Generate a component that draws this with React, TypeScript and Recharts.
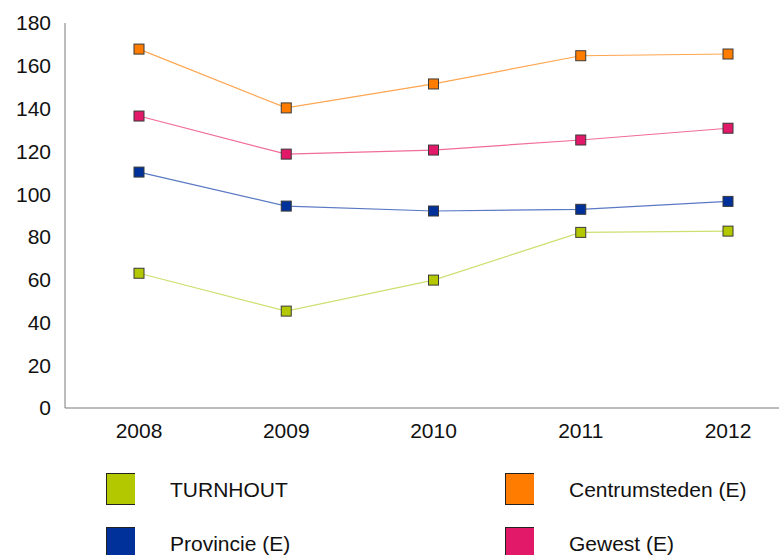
import { LineChart, Line, XAxis, YAxis } from "recharts";

const years = ["2008", "2009", "2010", "2011", "2012"];
const turnhout = [63, 45.3, 59.8, 82.1, 82.7];
const centrumsteden = [167.8, 140.3, 151.5, 164.7, 165.5];
const provincie = [110.3, 94.4, 92.1, 92.9, 96.6];
const gewest = [136.5, 118.7, 120.6, 125.3, 130.8];
const yTicks = [0, 20, 40, 60, 80, 100, 120, 140, 160, 180];

const data = years.map((year, i) => ({
  year,
  turnhout: turnhout[i],
  centrumsteden: centrumsteden[i],
  provincie: provincie[i],
  gewest: gewest[i],
}));

const series = [
  { key: "turnhout", name: "TURNHOUT", fill: "#b4c800", line: "#cce070" },
  { key: "centrumsteden", name: "Centrumsteden (E)", fill: "#ff7c00", line: "#ffa650" },
  { key: "provincie", name: "Provincie (E)", fill: "#00309a", line: "#5a78c4" },
  { key: "gewest", name: "Gewest (E)", fill: "#e21868", line: "#f06c9c" },
];

const font = "'Liberation Sans', Arial, sans-serif";

function squareDot(color: string) {
  return (props: any) => {
    const { cx, cy, index } = props;
    if (cx == null || cy == null) return <g key={index} />;
    return (
      <rect
        key={index}
        x={cx - 5}
        y={cy - 5}
        width={10}
        height={10}
        fill={color}
        stroke="#3a3a3a"
        strokeWidth={1}
      />
    );
  };
}

// legend: two columns, two rows of big swatches
const legendPos = [
  { left: 106, top: 472 },
  { left: 505, top: 472 },
  { left: 106, top: 526 },
  { left: 505, top: 526 },
];

export default function App() {
  return (
    <div
      style={{
        position: "absolute",
        left: 0,
        top: 0,
        width: 779,
        height: 555,
        overflow: "hidden",
        background: "#fff",
        fontFamily: font,
      }}
    >
      <LineChart
        width={810}
        height={452}
        data={data}
        margin={{ top: 23, right: 9, bottom: 0, left: 0 }}
      >
        <XAxis
          dataKey="year"
          scale="point"
          padding={{ left: 74, right: 73 }}
          height={44}
          stroke="#7a7a7a"
          tickLine={false}
          tickMargin={9}
          tick={{ fill: "#111", fontSize: 21, fontFamily: font }}
        />
        <YAxis
          width={65}
          domain={[0, 180]}
          ticks={yTicks}
          interval={0}
          stroke="#7a7a7a"
          tickLine={false}
          tickMargin={8}
          tick={{ fill: "#111", fontSize: 21, fontFamily: font }}
        />
        {series.map((s) => (
          <Line
            key={s.key}
            dataKey={s.key}
            name={s.name}
            type="linear"
            stroke={s.line}
            strokeWidth={1.2}
            dot={squareDot(s.fill)}
            activeDot={false}
            isAnimationActive={false}
          />
        ))}
      </LineChart>
      {series.map((s, i) => (
        <div
          key={s.key}
          style={{
            position: "absolute",
            left: legendPos[i].left,
            top: legendPos[i].top,
            display: "flex",
            alignItems: "center",
          }}
        >
          <div
            style={{
              width: 29,
              height: 32,
              background: s.fill,
              border: "1px solid #222",
              borderRight: "none",
              boxSizing: "border-box",
            }}
          />
          <span
            style={{
              marginLeft: 35,
              paddingTop: 2,
              fontSize: 21,
              color: "#111",
              lineHeight: "32px",
              whiteSpace: "nowrap",
            }}
          >
            {s.name}
          </span>
        </div>
      ))}
    </div>
  );
}
